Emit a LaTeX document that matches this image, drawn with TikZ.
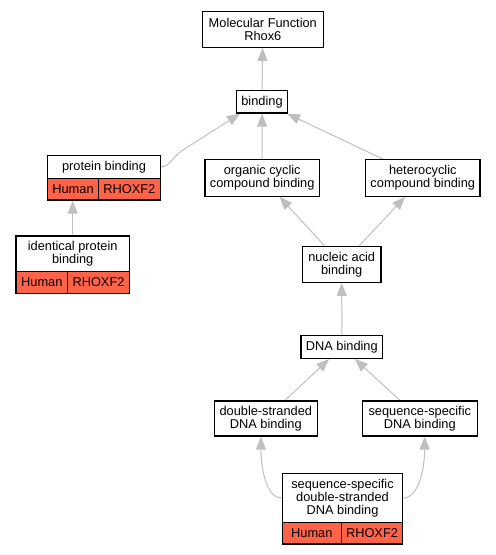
\documentclass[tikz,border=0pt]{standalone}
\usepackage{fontspec}
\setmainfont{Liberation Sans}
\usepackage{tikz}
\usetikzlibrary{arrows.meta}
\usetikzlibrary{calc}
\pgfdeclarelayer{edgelayer}
\pgfdeclarelayer{nodelayer}
\pgfsetlayers{edgelayer,nodelayer,main}
\definecolor{tomato}{rgb}{1.0,0.39,0.28}
\definecolor{edgegray}{rgb}{0.75,0.75,0.75}
\tikzstyle{term}=[rectangle, draw=black, fill=white, line width=1.2pt, inner sep=0pt, align=center, font=\fontsize{12.8}{13.3}\selectfont]
\tikzstyle{gene}=[term, fill=tomato]
\tikzstyle{isa}=[draw=edgegray, line width=1pt, -{Triangle[length=13pt,width=10pt]}]

\begin{document}
\begin{tikzpicture}[x=1pt, y=-1pt]
	\useasboundingbox (0,0) rectangle (496,555);
	\begin{pgfonlayer}{nodelayer}
		\node [style=term, minimum width=121pt, minimum height=35.6pt] (0) at (262.8, 29.5) {Molecular Function\\Rhox6};
		\node [style=term, minimum width=50.6pt, minimum height=22.6pt] (1) at (262, 101.7) {binding};
		\node [style=term, minimum width=112.6pt, minimum height=22.6pt] (2) at (104, 167) {protein binding};
		\node [style=gene, minimum width=50.6pt, minimum height=21.7pt] (2a) at (73, 189.2) {Human};
		\node [style=gene, minimum width=62pt, minimum height=21.7pt] (2b) at (129.3, 189.2) {RHOXF2};
		\node [style=term, minimum width=113.3pt, minimum height=35.7pt] (3) at (72.7, 253.8) {identical protein\\binding};
		\node [style=gene, minimum width=51.7pt, minimum height=21.7pt] (3a) at (41.85, 282.5) {Human};
		\node [style=gene, minimum width=61.6pt, minimum height=21.7pt] (3b) at (98.5, 282.5) {RHOXF2};
		\node [style=term, minimum width=114.3pt, minimum height=36.5pt] (4) at (262.2, 178) {organic cyclic\\compound binding};
		\node [style=term, minimum width=114.3pt, minimum height=36.5pt] (5) at (422.8, 178) {heterocyclic\\compound binding};
		\node [style=term, minimum width=78.7pt, minimum height=35.6pt] (6) at (341.7, 264.5) {nucleic acid\\binding};
		\node [style=term, minimum width=81.7pt, minimum height=22.6pt] (7) at (341.8, 347) {DNA binding};
		\node [style=term, minimum width=103pt, minimum height=35pt] (8) at (265.8, 418.5) {double-stranded\\DNA binding};
		\node [style=term, minimum width=115pt, minimum height=35pt] (9) at (419.8, 418.5) {sequence-specific\\DNA binding};
		\node [style=term, minimum width=120.4pt, minimum height=49.4pt] (10) at (342.5, 498) {sequence-specific\\double-stranded\\DNA binding};
		\node [style=gene, minimum width=59pt, minimum height=21.3pt] (10a) at (311.8, 533.3) {Human};
		\node [style=gene, minimum width=61.4pt, minimum height=21.3pt] (10b) at (372, 533.3) {RHOXF2};
	\end{pgfonlayer}
	\begin{pgfonlayer}{edgelayer}
		\draw [style=isa] (1) to (0);
		\draw [style=isa] (2.east) .. controls (170,167) and (172,157) .. (183,150) -- ($(1.south west)+(4,0)$);
		\draw [style=isa] (4) to (1);
		\draw [style=isa] (5) to (1);
		\draw [style=isa] (3.north) to (3.north |- 2a.south);
		\draw [style=isa] (6) to (4);
		\draw [style=isa] (6) to (5);
		\draw [style=isa] (7) to (6);
		\draw [style=isa] (8) to (7);
		\draw [style=isa] (9) to (7);
		\draw [style=isa] (10.west) .. controls +(-16,0) and +(0,30) .. (8.-105);
		\draw [style=isa] (10.east) .. controls +(16,0) and +(0,30) .. (9.-75);
	\end{pgfonlayer}
\end{tikzpicture}
\end{document}
